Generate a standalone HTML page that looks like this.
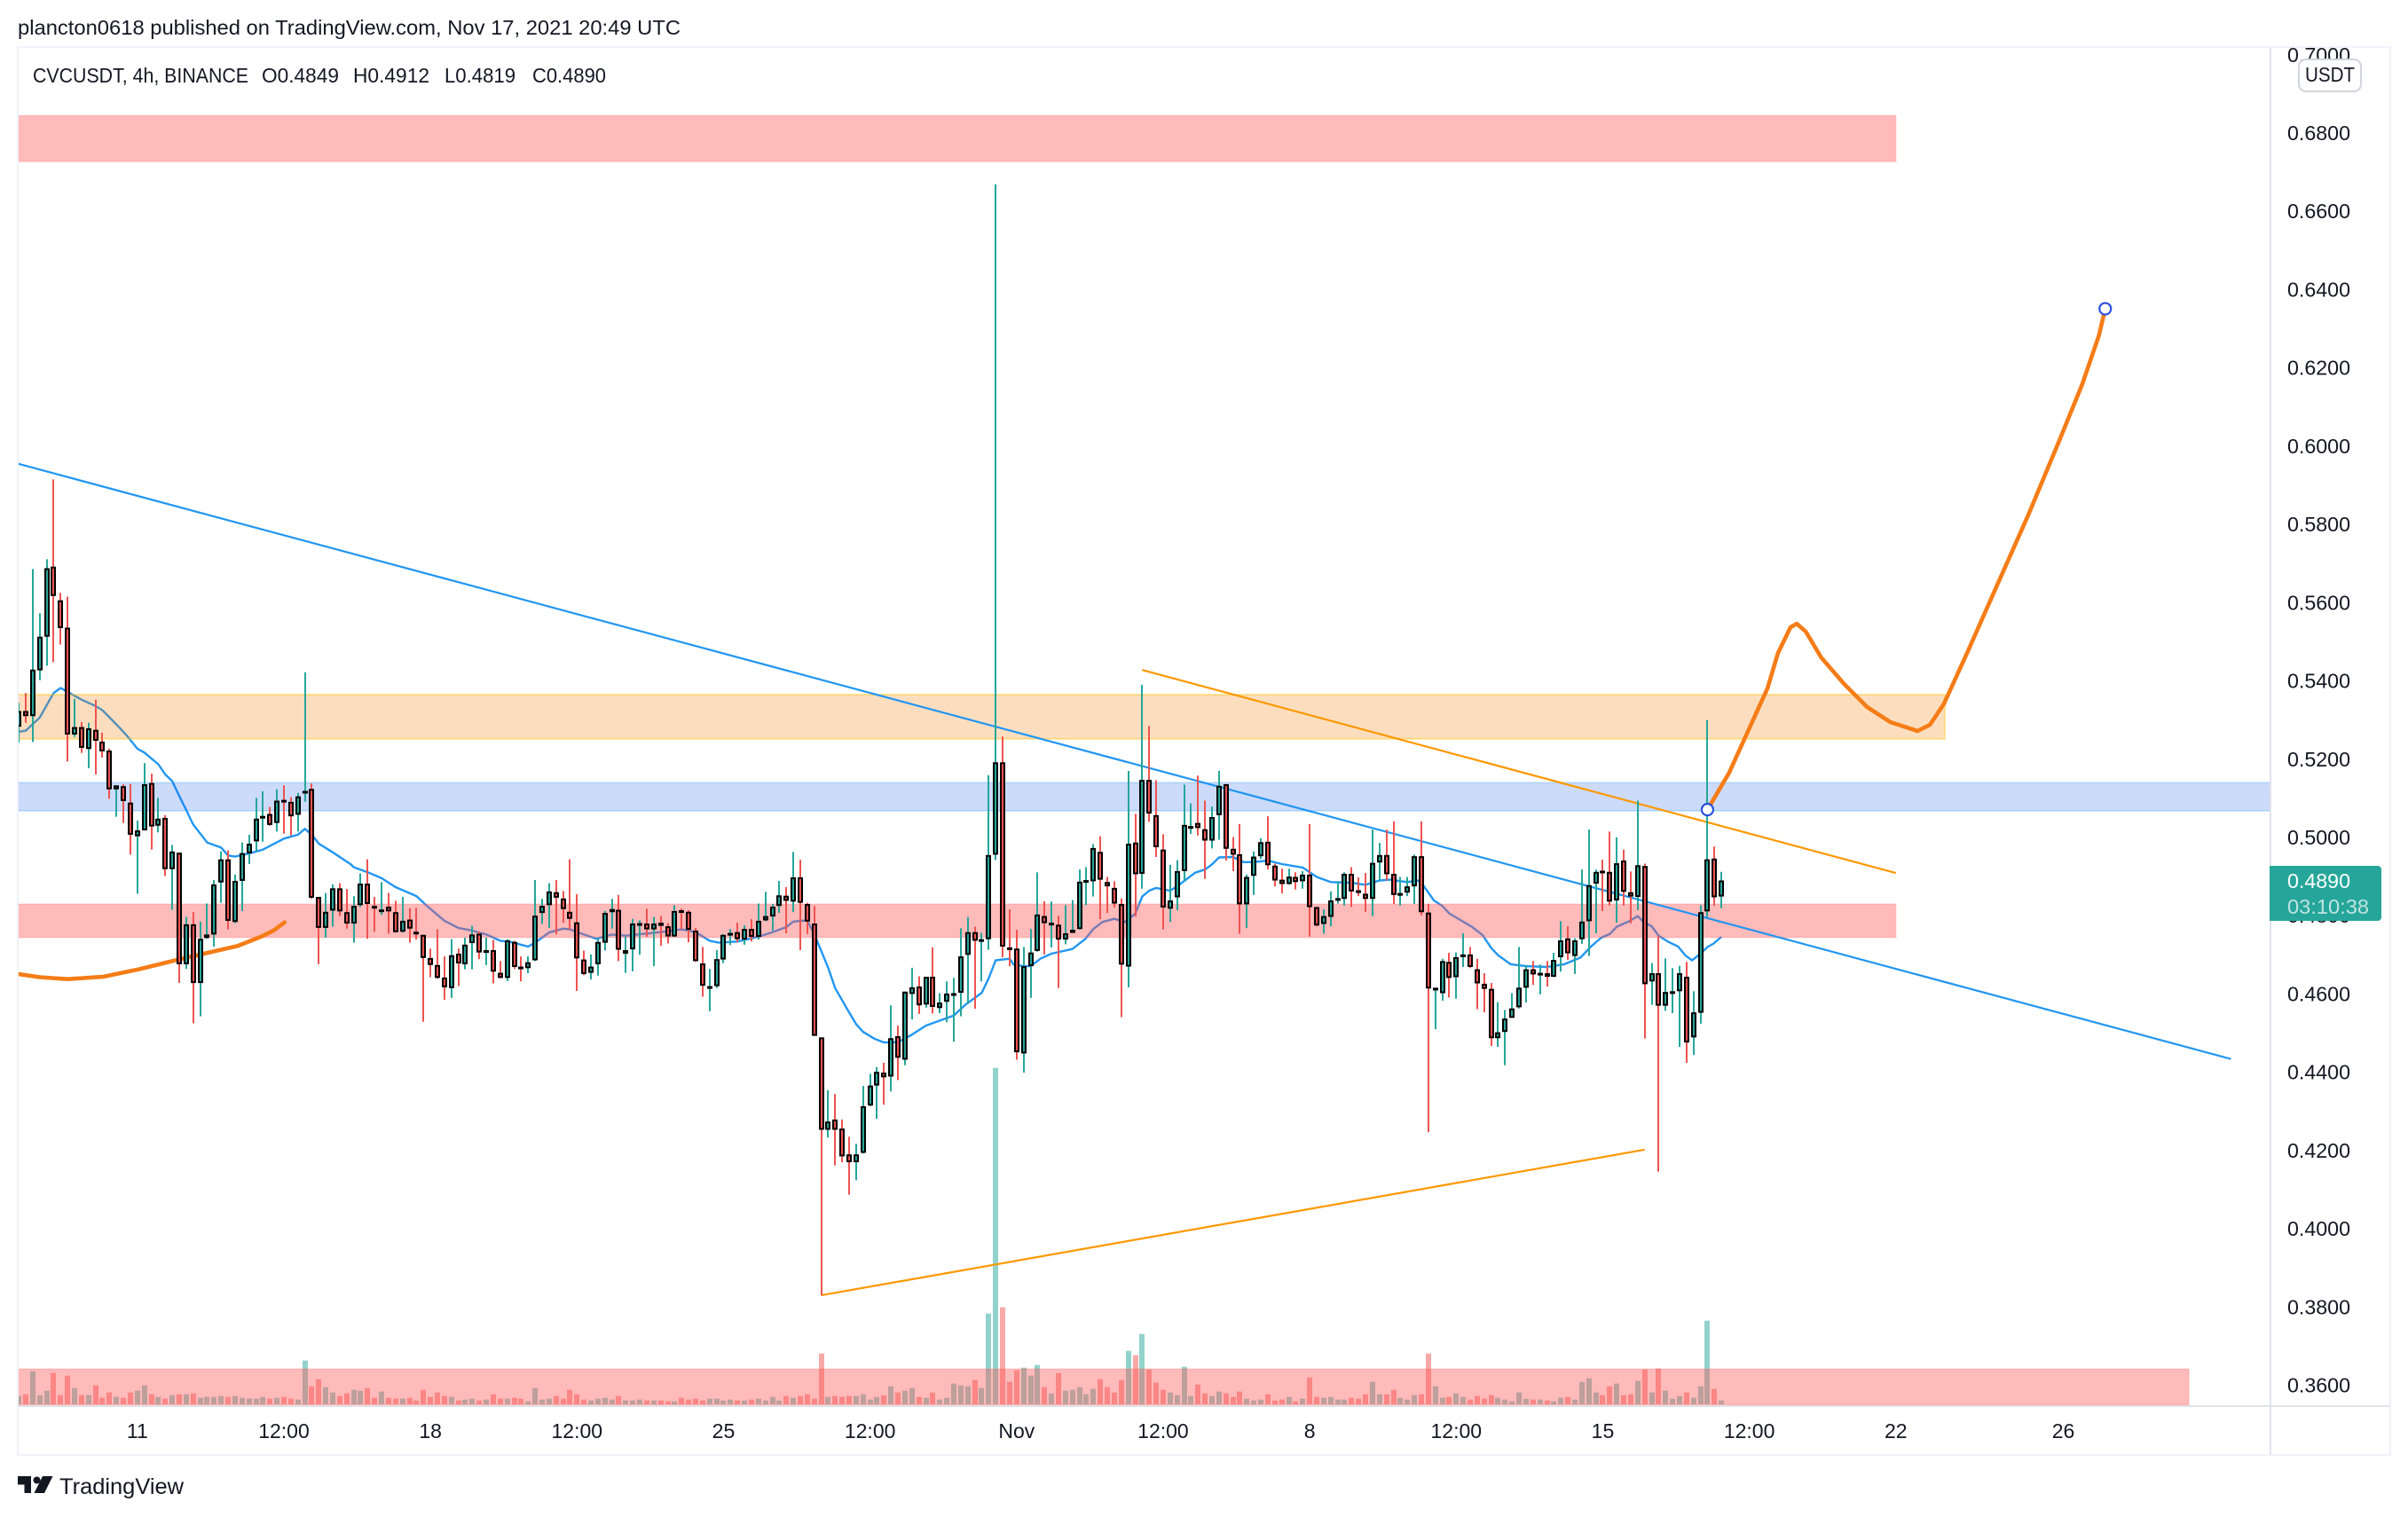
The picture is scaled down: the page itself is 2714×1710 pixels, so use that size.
<!DOCTYPE html>
<html lang="en">
<head>
<meta charset="utf-8">
<title>CVCUSDT 4h chart</title>
<style>
html,body{margin:0;padding:0;background:#fff;width:2714px;height:1710px;overflow:hidden}
svg{display:block}
text{font-family:"Liberation Sans",sans-serif;fill:#131722}
</style>
</head>
<body>
<svg id="chart" xmlns="http://www.w3.org/2000/svg" width="2714" height="1710" viewBox="0 0 2714 1710">
<defs>
<clipPath id="pane-clip"><rect x="21" y="54" width="2538" height="1531"/></clipPath>
<clipPath id="axis-clip"><rect x="2561" y="54" width="133" height="1531"/></clipPath>
</defs>
<rect x="0" y="0" width="2714" height="1710" fill="#ffffff"/>
<text x="20" y="39" font-size="23" textLength="747" lengthAdjust="spacingAndGlyphs">plancton0618 published on TradingView.com, Nov 17, 2021 20:49 UTC</text>
<g id="pane" clip-path="url(#pane-clip)"></g>
<g id="axis-labels" clip-path="url(#axis-clip)"></g>
<g id="time-labels"></g>
<g fill="none">
<rect x="20" y="53" width="2674" height="1587" stroke="#f0f3fa" stroke-width="2"/>
<line x1="2559" y1="54" x2="2559" y2="1640" stroke="#e0e3eb" stroke-width="2"/>
<line x1="20" y1="1585" x2="2694" y2="1585" stroke="#e0e3eb" stroke-width="2"/>
</g>
<g font-size="23">
<text x="37" y="93" textLength="243" lengthAdjust="spacingAndGlyphs">CVCUSDT, 4h, BINANCE</text>
<text x="295" y="93" textLength="87" lengthAdjust="spacingAndGlyphs">O0.4849</text>
<text x="398" y="93" textLength="86" lengthAdjust="spacingAndGlyphs">H0.4912</text>
<text x="501" y="93" textLength="80" lengthAdjust="spacingAndGlyphs">L0.4819</text>
<text x="600" y="93" textLength="83" lengthAdjust="spacingAndGlyphs">C0.4890</text>
</g>
<g>
<rect x="2591" y="67" width="70" height="36" rx="8" fill="#ffffff" stroke="#d1d4dc" stroke-width="2"/>
<text x="2626" y="92" font-size="23" text-anchor="middle" textLength="56" lengthAdjust="spacingAndGlyphs">USDT</text>
</g>
<g>
<path d="M2558 976H2680a4 4 0 0 1 4 4V1034a4 4 0 0 1 -4 4H2558Z" fill="#26a69a"/>
<text x="2578" y="1001" font-size="23" style="fill:#ffffff" textLength="71" lengthAdjust="spacingAndGlyphs">0.4890</text>
<text x="2578" y="1030" font-size="23" style="fill:#ffffff;fill-opacity:.7" textLength="92" lengthAdjust="spacingAndGlyphs">03:10:38</text>
</g>
<g>
<g fill="#131722">
<path d="M20 1664H35V1683H27.500V1673.500H20Z"/>
<circle cx="41.500" cy="1668.500" r="4"/>
<path d="M48 1664H59.500L50 1683H38.500Z"/>
</g>
<text x="67" y="1684" font-size="25" textLength="140" lengthAdjust="spacingAndGlyphs" style="font-weight:500">TradingView</text>
</g>
</svg>
<script>
const priceTicks = [0.70,0.68,0.66,0.64,0.62,0.60,0.58,0.56,0.54,0.52,0.50,0.48,0.46,0.44,0.42,0.40,0.38,0.36];
const priceTickLabels = ['0.7000','0.6800','0.6600','0.6400','0.6200','0.6000','0.5800','0.5600','0.5400','0.5200','0.5000','0.4800','0.4600','0.4400','0.4200','0.4000','0.3800','0.3600'];
const timeTickBars = [17,38,59,80,101,122,143,164,185,206,227,248,269,293];
const timeTickLabels = ['11','12:00','18','12:00','25','12:00','Nov','12:00','8','12:00','15','12:00','22','26'];

const opens = [.5283,.5323,.5310,.5427,.5513,.5692,.5606,.5536,.5263,.5282,.5226,.5275,.5245,.5222,.5123,.5131,.5089,.5003,.5018,.5139,.5030,.5050,.4919,.4961,.4676,.4778,.4628,.4743,.4752,.4885,.4944,.4784,.4889,.4959,.4990,.5050,.5060,.5037,.5096,.5091,.5058,.5116,.5124,.4848,.4769,.4813,.4870,.4809,.4780,.4827,.4882,.4825,.4814,.4823,.4809,.4759,.4790,.4759,.4751,.4692,.4674,.4642,.4615,.4703,.4676,.4730,.4754,.4705,.4712,.4654,.4641,.4733,.4670,.4666,.4686,.4807,.4827,.4860,.4844,.4810,.4783,.4688,.4654,.4676,.4731,.4809,.4815,.4703,.4714,.4779,.4780,.4765,.4782,.4773,.4747,.4814,.4810,.4762,.4678,.4617,.4620,.4688,.4753,.4758,.4739,.4766,.4746,.4788,.4798,.4825,.4851,.4836,.4898,.4830,.4780,.4489,.4253,.4279,.4256,.4190,.4170,.4194,.4315,.4366,.4399,.4389,.4492,.4432,.4600,.4619,.4573,.4644,.4564,.4580,.4599,.4603,.4700,.4758,.4736,.4740,.4956,.5192,.4719,.4716,.4448,.4671,.4710,.4799,.4779,.4777,.4739,.4756,.4766,.4886,.4888,.4963,.4886,.4871,.4830,.4670,.4987,.4907,.5147,.5057,.4969,.4818,.4847,.4914,.5026,.5037,.5021,.4992,.5057,.5136,.4971,.4957,.4829,.4902,.4952,.4989,.4928,.4892,.4881,.4899,.4888,.4905,.4822,.4779,.4797,.4842,.4843,.4907,.4865,.4856,.4843,.4936,.4955,.4907,.4853,.4859,.4875,.4952,.4808,.4609,.4602,.4682,.4643,.4695,.4701,.4663,.4626,.4613,.4487,.4503,.4539,.4566,.4616,.4663,.4650,.4653,.4644,.4694,.4742,.4697,.4740,.4786,.4882,.4915,.4912,.4839,.4941,.4860,.4848,.4927,.4632,.4653,.4570,.4604,.4607,.4644,.4489,.4552,.4811,.4946,.4849];
const highs = [.5344,.5369,.5686,.5573,.5711,.5915,.5625,.5615,.5354,.5295,.5293,.5352,.5268,.5227,.5133,.5136,.5136,.5043,.5190,.5163,.5101,.5057,.4981,.4961,.4797,.4809,.4785,.4831,.4891,.4964,.4967,.4905,.4987,.5007,.5101,.5118,.5078,.5123,.5133,.5103,.5114,.5422,.5138,.4848,.4858,.4880,.4883,.4868,.4850,.4908,.4944,.4848,.4886,.4858,.4838,.4848,.4819,.4820,.4751,.4716,.4765,.4696,.4740,.4716,.4744,.4774,.4759,.4744,.4738,.4684,.4740,.4736,.4696,.4696,.4891,.4843,.4883,.4891,.4863,.4944,.4855,.4711,.4701,.4741,.4812,.4843,.4853,.4746,.4792,.4788,.4818,.4797,.4799,.4781,.4827,.4818,.4814,.4769,.4720,.4664,.4712,.4753,.4766,.4782,.4775,.4791,.4831,.4861,.4830,.4889,.4873,.4963,.4943,.4833,.4825,.4489,.4354,.4344,.4279,.4235,.4217,.4365,.4396,.4413,.4424,.4571,.4519,.4606,.4667,.4645,.4644,.4719,.4602,.4632,.4641,.4768,.4797,.4772,.4756,.5159,.6669,.5258,.4816,.4764,.4720,.4766,.4911,.4837,.4836,.4800,.4827,.4840,.4918,.4924,.4983,.5003,.4899,.4888,.4844,.5170,.5060,.5390,.5285,.5146,.5008,.4930,.4942,.5135,.5087,.5158,.5094,.5079,.5170,.5137,.5001,.5034,.4905,.4964,.4998,.5054,.4933,.4920,.4920,.4911,.4914,.5034,.4823,.4816,.4862,.4888,.4911,.4924,.4898,.4909,.5020,.4986,.5020,.5041,.4899,.4899,.4956,.5041,.4830,.4616,.4690,.4705,.4706,.4755,.4720,.4690,.4653,.4628,.4579,.4559,.4602,.4720,.4674,.4684,.4675,.4684,.4705,.4786,.4773,.4742,.4918,.5020,.4918,.4943,.5015,.5000,.4969,.4913,.5094,.4933,.4679,.4748,.4691,.4666,.4672,.4682,.4607,.4827,.5300,.4977,.4912];
const lows = [.5242,.5293,.5244,.5402,.5439,.5448,.5493,.5194,.5257,.5216,.5177,.5161,.5204,.5099,.5053,.5037,.4956,.4856,.5018,.4969,.5013,.4901,.4815,.4628,.4664,.4525,.4543,.4741,.4721,.4833,.4765,.4781,.4812,.4932,.4964,.4989,.5030,.5015,.5010,.5005,.5015,.5091,.4843,.4676,.4744,.4772,.4799,.4767,.4731,.4822,.4741,.4759,.4802,.4754,.4757,.4757,.4731,.4739,.4529,.4643,.4639,.4585,.4590,.4620,.4663,.4663,.4689,.4674,.4627,.4640,.4633,.4664,.4632,.4653,.4684,.4779,.4769,.4752,.4782,.4765,.4608,.4648,.4637,.4647,.4711,.4767,.4684,.4654,.4658,.4700,.4746,.4671,.4723,.4729,.4746,.4766,.4732,.4682,.4593,.4556,.4615,.4679,.4725,.4732,.4726,.4734,.4739,.4786,.4762,.4807,.4755,.4809,.4712,.4753,.4493,.3830,.4233,.4162,.4170,.4087,.4124,.4192,.4313,.4281,.4317,.4351,.4380,.4418,.4535,.4549,.4565,.4550,.4551,.4528,.4478,.4543,.4576,.4562,.4632,.4713,.4942,.4694,.4671,.4432,.4399,.4590,.4708,.4701,.4719,.4615,.4727,.4758,.4764,.4827,.4849,.4791,.4807,.4821,.4541,.4617,.4798,.4869,.5040,.4950,.4765,.4784,.4814,.4890,.5009,.5005,.4894,.4972,.4994,.4941,.4914,.4754,.4769,.4853,.4945,.4918,.4875,.4857,.4879,.4867,.4869,.4747,.4773,.4754,.4773,.4831,.4826,.4822,.4850,.4810,.4799,.4890,.4890,.4830,.4826,.4850,.4830,.4801,.4247,.4510,.4583,.4591,.4588,.4669,.4666,.4561,.4553,.4467,.4465,.4418,.4539,.4563,.4578,.4623,.4599,.4619,.4643,.4657,.4687,.4651,.4728,.4697,.4755,.4812,.4826,.4782,.4826,.4780,.4814,.4486,.4572,.4146,.4557,.4551,.4465,.4424,.4444,.4524,.4796,.4825,.4819];
const closes = [.5323,.5310,.5429,.5513,.5688,.5617,.5535,.5263,.5282,.5229,.5279,.5247,.5220,.5123,.5133,.5093,.5007,.5018,.5136,.5028,.5048,.4919,.4964,.4676,.4778,.4628,.4741,.4752,.4880,.4944,.4787,.4889,.4960,.4984,.5048,.5055,.5032,.5094,.5093,.5054,.5105,.5119,.4846,.4769,.4810,.4870,.4811,.4780,.4825,.4882,.4830,.4821,.4816,.4811,.4758,.4787,.4767,.4755,.4692,.4674,.4641,.4617,.4699,.4678,.4726,.4752,.4706,.4712,.4657,.4641,.4737,.4669,.4666,.4681,.4800,.4825,.4862,.4846,.4817,.4792,.4691,.4651,.4670,.4733,.4807,.4817,.4713,.4712,.4780,.4781,.4765,.4780,.4774,.4747,.4812,.4811,.4764,.4684,.4621,.4620,.4689,.4751,.4756,.4740,.4766,.4746,.4787,.4799,.4823,.4852,.4838,.4898,.4833,.4785,.4493,.4253,.4274,.4253,.4185,.4170,.4190,.4313,.4366,.4401,.4387,.4487,.4437,.4606,.4617,.4571,.4644,.4567,.4578,.4601,.4602,.4696,.4758,.4736,.4740,.4955,.5192,.4721,.4715,.4451,.4671,.4706,.4803,.4781,.4782,.4739,.4755,.4764,.4887,.4891,.4973,.4892,.4875,.4831,.4675,.4984,.4906,.5147,.5061,.4975,.4821,.4839,.4914,.5032,.5029,.5024,.4992,.5052,.5132,.4971,.4956,.4829,.4899,.4951,.4988,.4929,.4890,.4881,.4900,.4886,.4905,.4822,.4775,.4799,.4839,.4845,.4907,.4862,.4859,.4843,.4935,.4955,.4906,.4853,.4858,.4875,.4952,.4809,.4614,.4616,.4684,.4641,.4694,.4701,.4669,.4627,.4613,.4487,.4502,.4537,.4563,.4616,.4663,.4650,.4654,.4644,.4687,.4737,.4704,.4737,.4785,.4878,.4912,.4912,.4836,.4934,.4861,.4849,.4929,.4625,.4653,.4570,.4605,.4607,.4653,.4476,.4553,.4809,.4944,.4847,.4890];
const volumes = [28,34,112,31,46,106,31,97,55,31,31,64,22,40,25,22,40,46,64,34,25,19,31,34,34,37,22,25,25,28,25,28,22,19,19,25,19,22,25,19,16,148,61,85,58,40,28,37,49,46,55,22,43,22,19,19,22,13,49,25,40,28,25,13,16,19,13,16,34,19,19,22,19,10,55,16,19,28,19,49,34,16,13,19,22,16,28,13,13,16,13,13,13,10,10,22,16,19,13,19,19,13,16,13,13,16,19,13,25,13,28,22,28,34,19,172,25,28,25,28,28,34,16,25,30,61,40,46,55,25,22,40,16,22,70,64,61,82,55,307,1138,328,76,115,124,97,133,58,37,106,46,49,58,34,52,85,58,40,82,181,166,238,118,73,49,40,31,127,28,67,37,28,43,37,25,43,19,13,16,34,13,16,25,10,19,91,25,22,25,16,16,22,19,34,76,34,34,49,22,16,31,34,172,61,22,25,37,25,16,28,19,31,22,16,10,40,19,16,16,13,10,22,25,16,76,88,40,31,61,70,31,34,79,118,40,121,46,19,28,40,22,61,283,52,13];

const maBars = [0,1,3,5,6,7.3,9,11,12,14.3,15.5,17,18,20,21,22,23,24,25,27,29,30,31,33,35,38,40,41,42,43,45,47.6,48,50,52,54,57,58.5,61,63,65,67,69,70.5,73,74,76,78,79,81,82.8,85,87,92,95,97,99,100.3,103,106,108,110,111,113,114,115,116,117,118.7,120,121,122.6,124,126,128,130,134,135.7,138,139,140,142,142.6,144,145,146.5,148,151,152.8,154,155.3,157,158.5,160,161,162,163,165,166,168.6,170,171,172,174,175.5,177,179,181,184,186,188,191,193,195,196.5,199,200.5,201,202.8,204,205,206.6,208.3,209.8,211,212,213.8,216,219,221.5,223.8,225.3,226.8,228,229,230.8,232,232.9,234,235,236.3,237.8,238.8,239.8,241,242,242.9,244];
const maValues = [.5270,.5273,.5306,.5369,.5382,.5369,.5352,.5336,.5325,.5283,.5260,.5227,.5217,.5187,.5161,.5144,.5106,.5070,.5033,.4987,.4974,.4954,.4951,.4959,.4969,.4997,.5007,.5022,.5007,.4984,.4962,.4931,.4924,.4911,.4896,.4873,.4850,.4825,.4787,.4769,.4762,.4752,.4736,.4733,.4721,.4731,.4757,.4767,.4765,.4752,.4741,.4752,.4749,.4758,.4765,.4758,.4736,.4731,.4734,.4746,.4758,.4771,.4785,.4788,.4753,.4710,.4667,.4615,.4562,.4523,.4503,.4486,.4476,.4477,.4496,.4519,.4545,.4573,.4603,.4640,.4686,.4690,.4675,.4671,.4671,.4691,.4703,.4715,.4740,.4766,.4784,.4792,.4784,.4805,.4849,.4864,.4871,.4864,.4875,.4910,.4918,.4931,.4949,.4950,.4937,.4937,.4941,.4932,.4923,.4899,.4886,.4884,.4879,.4890,.4892,.4886,.4890,.4884,.4839,.4825,.4806,.4789,.4771,.4750,.4718,.4699,.4676,.4671,.4669,.4676,.4693,.4721,.4744,.4753,.4772,.4786,.4799,.4783,.4773,.4749,.4734,.4721,.4699,.4686,.4703,.4720,.4729,.4746];

const zoneNames = ['zone-red-top','zone-orange','zone-blue','zone-red-mid','zone-red-volume'];
const zoneHighs = [.6845,.5365,.5140,.4830,.3642];
const zoneLows = [.6727,.5252,.5068,.4744,.3549];
const zoneEndBars = [269,276,400,269,311];
const zoneFills = ['rgba(255,82,82,.4)','rgba(245,124,0,.25)','rgba(33,100,230,.23)','rgba(255,82,82,.4)','rgba(255,82,82,.4)'];
const zoneEdges = ['rgba(255,82,82,.12)','rgba(255,193,7,.4)','rgba(33,150,243,.22)','rgba(255,82,82,.12)','rgba(255,82,82,.12)'];

const lineNames = ['trendline-blue','trendline-orange-upper','trendline-orange-lower'];
const lineStartBars = [-0.1,161,115];
const lineStartPrices = [.5955,.5428,.3830];
const lineEndBars = [317,269,233];
const lineEndPrices = [.4434,.4909,.4202];
const lineColors = ['#2196f3','#ff9800','#ff9800'];

const arcBars = [-0.1,3,7,12.1,17.2,22.9,26.8,31.4,34.8,36.5,38.1];
const arcPrices = [.4651,.4643,.4638,.4644,.4663,.4688,.4704,.4723,.4747,.4762,.4783];
const forecastBars = [242,245.1,248.4,250.6,252.1,253.9,254.8,256.1,258.3,261.6,264.9,268.2,272.1,273.9,275.9,279.2,283.6,288,292.4,295.7,298.1,299];
const forecastPrices = [.5071,.5165,.5295,.5381,.5471,.5537,.5546,.5526,.5460,.5392,.5333,.5295,.5272,.5288,.5342,.5471,.5648,.5825,.6013,.6158,.6283,.6351];

const NS = 'http://www.w3.org/2000/svg';
const UP = '#26a69a';
const DOWN = '#ef5350';
function priceToY(p){ return 150 + (0.68 - p) * 4411; }
function barToX(i){ return 21.1 + 7.865 * i; }
function volumeToY(v){ return 1583 - v / 3; }
function make(tag, attrs, parent){
  const el = document.createElementNS(NS, tag);
  for (const k in attrs) el.setAttribute(k, attrs[k]);
  parent.appendChild(el);
  return el;
}
const pane = document.getElementById('pane');
const axisLabels = document.getElementById('axis-labels');
const timeLabels = document.getElementById('time-labels');

const volumeGroup = make('g', {}, pane);


volumes.forEach(function(v, i){
  const y = volumeToY(v);
  const r = make('rect', {x: Math.round(barToX(i)) - 3, y: y, width: 6, height: 1583 - y, fill: closes[i] >= opens[i] ? UP : DOWN, 'fill-opacity': .5}, volumeGroup);
  
  
});

const maLine = make('polyline', {fill: 'none', stroke: '#2196f3', 'stroke-width': 2.4, 'stroke-linejoin': 'round', points: maBars.map(function(b, k){ return barToX(b).toFixed(1) + ',' + priceToY(maValues[k]).toFixed(1); }).join(' ')}, pane);



zoneNames.forEach(function(name, k){
  const top = priceToY(zoneHighs[k]);
  const bottom = priceToY(zoneLows[k]);
  const r = make('rect', {x: 20, y: top, width: barToX(zoneEndBars[k]) - 20, height: bottom - top, fill: zoneFills[k], stroke: zoneEdges[k], 'stroke-width': 2}, pane);
  
  
});

lineNames.forEach(function(name, k){
  const l = make('line', {x1: barToX(lineStartBars[k]), y1: priceToY(lineStartPrices[k]), x2: barToX(lineEndBars[k]), y2: priceToY(lineEndPrices[k]), stroke: lineColors[k], 'stroke-width': 2.2}, pane);
  
  
});

const arc = make('polyline', {fill: 'none', stroke: '#f57c17', 'stroke-width': 4.6, 'stroke-linecap': 'round', 'stroke-linejoin': 'round', points: arcBars.map(function(b, k){ return barToX(b).toFixed(1) + ',' + priceToY(arcPrices[k]).toFixed(1); }).join(' ')}, pane);



const candleGroup = make('g', {}, pane);


opens.forEach(function(o, i){
  const c = closes[i];
  const color = c >= o ? UP : DOWN;
  const x = Math.round(barToX(i));
  const g = make('g', {}, candleGroup);
  
  
  const wickTop = priceToY(highs[i]);
  const wickBottom = priceToY(lows[i]);
  const wick = make('rect', {x: x - 1, y: wickTop, width: 2, height: Math.max(1, wickBottom - wickTop), fill: color}, g);
  
  
  const top = priceToY(Math.max(o, c));
  const bottom = priceToY(Math.min(o, c));
  const h = Math.max(3, bottom - top);
  const body = make('rect', {x: x - 3, y: top, width: 6, height: h, fill: '#000000'}, g);
  
  
  if (h > 4) {
    const fill = make('rect', {x: x - 1, y: top + 2, width: 2, height: h - 4, fill: color}, g);
    
    
  }
});

const forecast = make('polyline', {fill: 'none', stroke: '#f57c17', 'stroke-width': 4.6, 'stroke-linecap': 'round', 'stroke-linejoin': 'round', points: forecastBars.map(function(b, k){ return barToX(b).toFixed(1) + ',' + priceToY(forecastPrices[k]).toFixed(1); }).join(' ')}, pane);



const startHandle = make('circle', {cx: barToX(forecastBars[0]), cy: priceToY(forecastPrices[0]), r: 6.5, fill: '#ffffff', stroke: '#2a4fdc', 'stroke-width': 2.2}, pane);


const endHandle = make('circle', {cx: barToX(forecastBars[forecastBars.length - 1]), cy: priceToY(forecastPrices[forecastPrices.length - 1]), r: 6.5, fill: '#ffffff', stroke: '#2a4fdc', 'stroke-width': 2.2}, pane);



priceTicks.forEach(function(p, k){
  const t = make('text', {x: 2578, y: priceToY(p) + 8, 'font-size': 23, textLength: 71, lengthAdjust: 'spacingAndGlyphs'}, axisLabels);
  
  
  t.textContent = priceTickLabels[k];
});
timeTickBars.forEach(function(b, k){
  const t = make('text', {x: barToX(b), y: 1621, 'font-size': 23, 'text-anchor': 'middle'}, timeLabels);
  
  
  t.textContent = timeTickLabels[k];
});
</script>
</body>
</html>
